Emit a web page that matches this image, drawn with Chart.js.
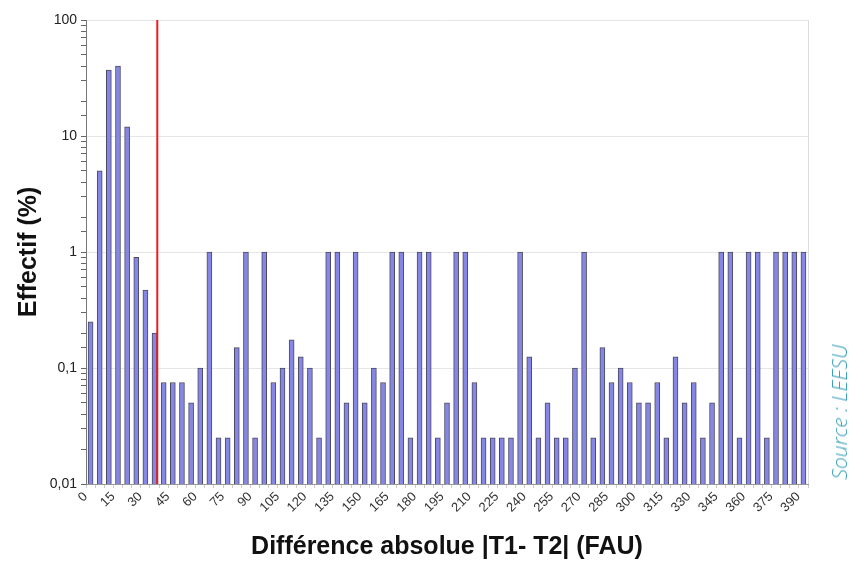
<!DOCTYPE html>
<html>
<head>
<meta charset="utf-8">
<script src="https://cdn.jsdelivr.net/npm/chart.js@4/dist/chart.umd.min.js"></script>
<style>
  html, body { margin: 0; padding: 0; background: #fff; }
  #wrap { position: relative; width: 849px; height: 562px; }
  #source {
    position: absolute; left: 839px; top: 412px;
    transform: translate(-50%, -50%) rotate(-90deg);
    font-family: "Open Sans", "Liberation Sans", sans-serif;
    font-style: italic; font-weight: 300; font-size: 21px;
    color: #3aa0ba; white-space: nowrap;
  }
</style>
</head>
<body>
<div id="wrap">
  <canvas id="chart" width="849" height="562"></canvas>
  <div id="source">Source : LEESU</div>
</div>
<script>
// absolute difference |T1 - T2| (FAU), one class every 5
const differences = [0, 5, 10, 15, 20, 25, 30, 35, 40, 45, 50, 55, 60, 65, 70, 75, 80, 85, 90, 95,
  100, 105, 110, 115, 120, 125, 130, 135, 140, 145, 150, 155, 160, 165, 170, 175, 180, 185, 190, 195,
  200, 205, 210, 215, 220, 225, 230, 235, 240, 245, 250, 255, 260, 265, 270, 275, 280, 285, 290, 295,
  300, 305, 310, 315, 320, 325, 330, 335, 340, 345, 350, 355, 360, 365, 370, 375, 380, 385, 390]

// effectif (%)
const effectif = [0.25, 5, 37, 40, 12, 0.9, 0.47, 0.2, 0.075, 0.075, 0.075, 0.05, 0.1, 1, 0.025, 0.025, 0.15, 1, 0.025, 1,
  0.075, 0.1, 0.175, 0.125, 0.1, 0.025, 1, 1, 0.05, 1, 0.05, 0.1, 0.075, 1, 1, 0.025, 1, 1, 0.025, 0.05,
  1, 1, 0.075, 0.025, 0.025, 0.025, 0.025, 1, 0.125, 0.025, 0.05, 0.025, 0.025, 0.1, 1, 0.025, 0.15, 0.075, 0.1, 0.075,
  0.05, 0.05, 0.075, 0.025, 0.125, 0.05, 0.075, 0.025, 0.05, 1, 1, 0.025, 1, 1, 0.025, 1, 1, 1, 1]

const xTickLabels = [0, 15, 30, 45, 60, 75, 90, 105, 120, 135, 150, 165, 180, 195, 210, 225, 240, 255, 270, 285, 300, 315, 330, 345, 360, 375, 390]
const yTickLabels = [0.01, 0.1, 1, 10, 100]

// red threshold line (FAU)
const thresholdDifference = 36.5

function isLabelled(v) {
  return yTickLabels.some(t => Math.abs(Math.log10(v) - Math.log10(t)) < 1e-6)
}

const extras = {
  id: 'extras',
  afterDatasetsDraw(chart) {
    let { ctx, chartArea, scales } = chart
    let step = scales.x.getPixelForValue(1) - scales.x.getPixelForValue(0)
    let idx = thresholdDifference / 5
    let px = scales.x.getPixelForValue(Math.floor(idx)) + (idx - Math.floor(idx)) * step
    ctx.save()
    ctx.strokeStyle = '#ee1d1d'
    ctx.lineWidth = 2
    ctx.beginPath()
    ctx.moveTo(px, chartArea.top)
    ctx.lineTo(px, chartArea.bottom)
    ctx.stroke()
    ctx.strokeStyle = '#dcdcdc'
    ctx.lineWidth = 1
    ctx.beginPath()
    ctx.moveTo(chartArea.right + 0.5, chartArea.top)
    ctx.lineTo(chartArea.right + 0.5, chartArea.bottom)
    ctx.stroke()
    ctx.restore()
  }
}

let chartCtx = document.getElementById('chart').getContext('2d')
let newChart = new Chart(chartCtx, {
  type: 'bar',
  data: {
    labels: differences,
    datasets: [{
      data: effectif,
      backgroundColor: '#8686e6',
      borderColor: '#4b4b5c',
      borderWidth: 1,
      barThickness: 5,
      categoryPercentage: 1
    }]
  },
  options: {
    responsive: false,
    animation: false,
    layout: { padding: { left: 0, right: 41, top: 20, bottom: 0 } },
    plugins: {
      legend: { display: false },
      tooltip: { enabled: false }
    },
    scales: {
      x: {
        offset: true,
        afterFit(s) { s.height = 78 },
        border: { color: '#999' },
        grid: { drawOnChartArea: false, drawTicks: true, tickLength: 4, color: '#cccccc' },
        ticks: {
          autoSkip: false, minRotation: 45, maxRotation: 45, padding: 1, labelOffset: -5,
          color: '#333', font: { family: 'Liberation Sans', size: 13 },
          callback: (v, i) => xTickLabels.includes(differences[i]) ? String(differences[i]) : ''
        },
        title: {
          display: true, text: 'Différence absolue |T1- T2| (FAU)', color: '#111',
          font: { family: 'Liberation Sans', size: 25, weight: 'bold' },
          padding: { top: 0, bottom: 0 }
        }
      },
      y: {
        type: 'logarithmic',
        min: 0.01,
        max: 100,
        afterFit(s) { s.width = 86 },
        border: { color: '#777' },
        grid: {
          color: c => c.tick && isLabelled(c.tick.value) ? '#e6e6e6' : 'rgba(0,0,0,0)',
          tickColor: '#666', tickLength: 5
        },
        ticks: {
          autoSkip: false, padding: 4, color: '#222',
          font: { family: 'Liberation Sans', size: 14 },
          callback: v => isLabelled(v) ? String(v).replace('.', ',') : ''
        },
        title: {
          display: true, text: 'Effectif (%)', color: '#111',
          font: { family: 'Liberation Sans', size: 25, weight: 'bold' },
          padding: { top: 14, bottom: 0 }
        }
      }
    }
  },
  plugins: [extras]
})
</script>
</body>
</html>
